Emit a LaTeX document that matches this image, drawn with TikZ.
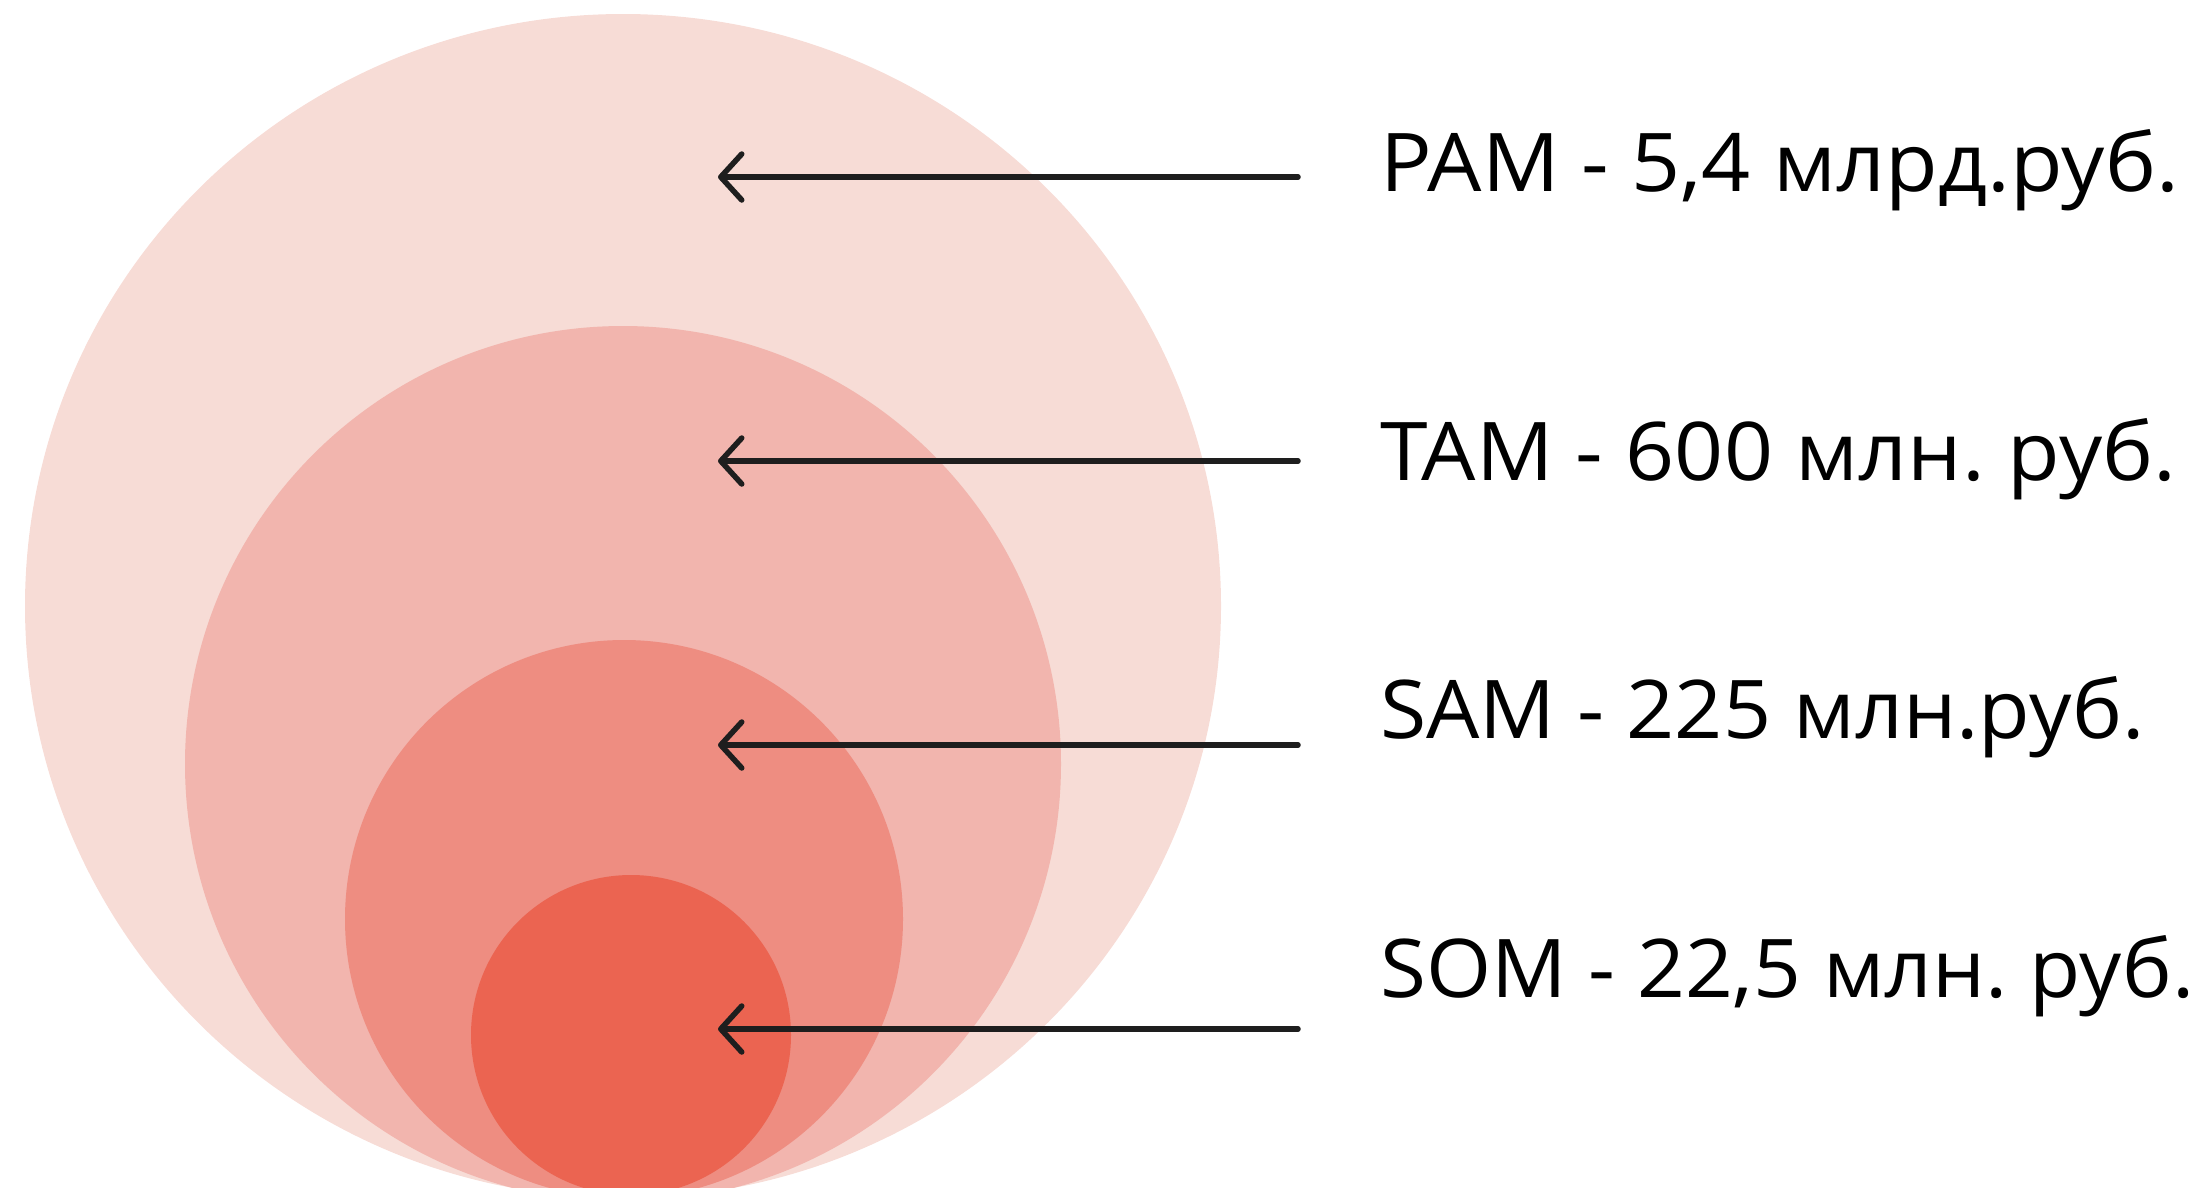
\documentclass[tikz,border=0pt]{standalone}
\usepackage{fontspec}
\setmainfont[FakeStretch=1.06]{Open Sans}
\newfontfamily\lblsam[FakeStretch=1.04]{Open Sans}
\newfontfamily\lblsom[FakeStretch=1.033]{Open Sans}
\usetikzlibrary{arrows.meta}
\definecolor{cpam}{HTML}{F7DCD6}
\definecolor{ctam}{HTML}{F2B5AE}
\definecolor{csam}{HTML}{EE8D81}
\definecolor{csom}{HTML}{EB6451}
\definecolor{ink}{HTML}{1E1E1E}
\tikzset{
  lbl/.style={anchor=base west, inner sep=0pt, text=black, font=\fontsize{81}{95}\selectfont},
  pointer/.style={draw=ink, line width=5.5pt, line cap=round,
    {Straight Barb[length=21pt, width=46pt, line width=5.5pt, round]}-},
}
\begin{document}
\frenchspacing
\begin{tikzpicture}[x=1pt, y=-1pt]
\useasboundingbox (0,0) rectangle (2205,1187);
\fill[cpam] (623,606) ellipse [x radius=598, y radius=592];
\fill[ctam] (623,764) circle [radius=438];
\fill[csam] (624,919) circle [radius=279];
\fill[csom] (631,1035) circle [radius=160];

\node[lbl] (pam) at (1380,191) {PAM - 5,4 млрд.руб.};
\node[lbl] (tam) at (1380,480) {TAM - 600 млн. руб.};
\node[lbl, font=\fontsize{81}{95}\lblsam] (sam) at (1380,738) {SAM - 225 млн.руб.};
\node[lbl, font=\fontsize{81}{95}\lblsom] (som) at (1380,997) {SOM - 22,5 млн. руб.};

\coordinate (pamtip) at (718,177);  \coordinate (pamend) at (1298,177);
\coordinate (tamtip) at (718,461);  \coordinate (tamend) at (1298,461);
\coordinate (samtip) at (718,745);  \coordinate (samend) at (1298,745);
\coordinate (somtip) at (718,1029); \coordinate (somend) at (1298,1029);

\draw[pointer] (pamtip) -- (pamend);
\draw[pointer] (tamtip) -- (tamend);
\draw[pointer] (samtip) -- (samend);
\draw[pointer] (somtip) -- (somend);
\end{tikzpicture}
\end{document}
